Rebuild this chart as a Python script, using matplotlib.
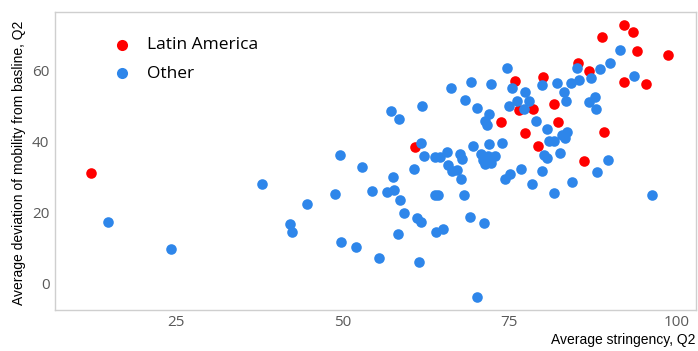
import matplotlib
matplotlib.use("Agg")
import matplotlib.pyplot as plt

# Average stringency (x) and mobility deviation (y), Q2
latam_x = [12.35, 60.8, 73.7, 75.8, 76.4, 78.6, 77.4, 79.3, 80.0, 81.6, 82.3,
           85.3, 86.1, 86.9, 88.8, 89.1, 92.1, 92.2, 93.5, 94.1, 95.4, 98.7]
latam_y = [31.2, 38.5, 45.6, 57.0, 48.9, 49.1, 42.4, 38.8, 58.1, 50.6, 45.5,
           62.1, 34.6, 59.8, 69.5, 42.6, 72.8, 56.7, 70.7, 65.5, 56.2, 64.2]

other_x = [14.9, 24.4, 38.0, 42.2, 42.5, 44.7, 48.9, 49.6, 49.8, 52.1, 52.9,
           54.4, 55.5, 56.7, 57.2, 57.6, 57.7, 58.3, 58.5, 58.6, 59.2, 60.7,
           61.1, 61.5, 61.7, 61.8, 61.9, 62.2, 63.8, 63.8, 64.0, 64.3, 64.6,
           65.0, 65.7, 65.8, 66.2, 66.4, 67.2, 67.6, 67.7, 67.9, 68.2, 68.3,
           69.1, 69.2, 69.5, 70.2, 70.2, 70.8, 71.1, 71.2, 71.3, 71.3, 71.6,
           71.8, 71.9, 71.9, 72.2, 72.3, 72.9, 73.9, 74.4, 74.7, 74.9, 75.1,
           75.4, 76.1, 76.7, 77.2, 77.3, 77.9, 78.4, 79.0, 79.9, 79.9, 80.2,
           80.6, 80.7, 80.9, 81.6, 81.6, 82.1, 82.6, 82.9, 83.1, 83.3, 83.4,
           83.6, 84.2, 84.3, 85.1, 85.4, 86.9, 87.2, 87.8, 88.0, 88.1, 88.6,
           89.8, 90.1, 91.5, 93.7, 96.4]
other_y = [17.5, 9.7, 28.0, 16.9, 14.7, 22.5, 25.3, 36.2, 11.7, 10.4, 32.8,
           26.1, 7.2, 25.8, 48.6, 30.1, 26.4, 14.0, 46.4, 23.6, 20.0, 32.2,
           18.5, 6.2, 17.5, 39.7, 50.0, 36.0, 24.9, 35.6, 14.5, 24.9, 35.6,
           15.4, 37.1, 33.4, 55.0, 31.8, 32.0, 36.5, 29.5, 35.0, 25.1, 51.6,
           18.7, 56.6, 38.8, 49.4, -3.7, 36.6, 34.8, 17.0, 33.7, 45.9, 44.6,
           35.8, 39.3, 47.7, 33.9, 56.2, 36.0, 39.6, 29.5, 60.6, 50.0, 30.9,
           55.0, 51.5, 32.2, 49.1, 54.0, 51.4, 28.2, 45.9, 55.8, 31.8, 36.2,
           43.5, 35.3, 40.2, 40.1, 25.6, 56.4, 36.9, 41.9, 53.8, 41.1, 51.4,
           42.8, 56.4, 28.7, 60.6, 57.2, 51.1, 57.9, 52.6, 49.2, 31.4, 60.3,
           34.7, 62.1, 65.7, 58.5, 24.9]

x_ticks = [25, 50, 75, 100]
y_ticks = [0, 20, 40, 60]

RED = '#FF0000'
BLUE = '#2E86EA'

fig = plt.figure(figsize=(6.98, 3.51), dpi=100)
ax = fig.add_axes([0.0788, 0.117, 0.918, 0.849])

ax.scatter(latam_x, latam_y, s=58, color=RED, linewidths=0, label='Latin America', zorder=2)
ax.scatter(other_x, other_y, s=58, color=BLUE, linewidths=0, label='Other', zorder=3)

ax.set_xlim(6.96, 102.9)
ax.set_ylim(-7.3, 76.4)
ax.set_xticks(x_ticks)
ax.set_yticks(y_ticks)
ax.tick_params(length=0, labelsize=11, labelcolor='#595959', pad=4)
for lab in ax.get_xticklabels() + ax.get_yticklabels():
    lab.set_family('Open Sans')
for sp in ax.spines.values():
    sp.set_color('#cfcfcf')
    sp.set_linewidth(1.0)

ax.set_xlabel('Average stringency, Q2', fontsize=10, family='Liberation Sans',
              loc='right', labelpad=2)
ax.set_ylabel('Average deviation of mobility from basline, Q2', fontsize=10,
              family='Liberation Sans', loc='top')
ax.yaxis.set_label_coords(-0.045, 0.97)

ax.legend(loc='upper left', bbox_to_anchor=(0.053, 0.968), frameon=False,
          prop={'family': 'Open Sans', 'size': 12.5}, handletextpad=0.45,
          labelspacing=0.72, markerscale=1.05)

fig.savefig('out.png', dpi=100)
